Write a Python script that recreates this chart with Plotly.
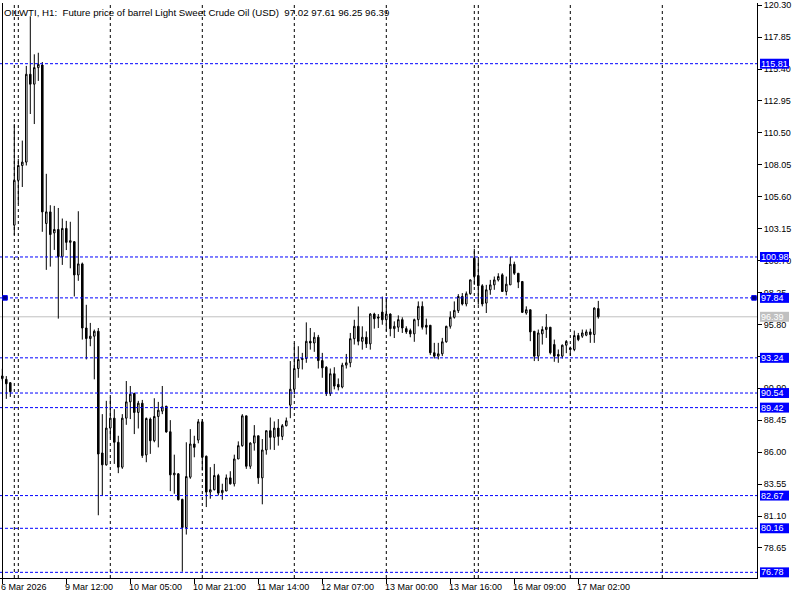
import plotly.graph_objects as go

# ---------------- data ----------------
title_text = "OILWTI, H1:  Future price of barrel Light Sweet Crude Oil (USD)  97.02 97.61 96.25 96.39"

bars = list(range(150))
opens = [91.85, 91.59, 91.33, 103.42, 106.86, 108.00, 108.26, 115.00, 114.24, 115.51,
         115.71, 103.55, 104.44, 102.83, 103.09, 101.00, 103.17, 102.10, 102.15, 99.60,
         100.45, 95.53, 94.72, 94.90, 95.28, 85.94, 85.03, 87.85, 88.61, 86.76,
         84.85, 88.61, 89.86, 90.50, 89.05, 89.76, 85.79, 88.54, 86.88, 88.74,
         89.15, 89.53, 87.57, 84.26, 84.34, 82.38, 80.22, 84.08, 86.63, 86.93,
         88.33, 85.69, 82.94, 83.12, 84.21, 82.89, 83.02, 84.03, 83.57, 85.48,
         86.50, 88.79, 84.92, 86.70, 87.26, 84.03, 86.17, 87.65, 87.14, 87.85,
         87.21, 88.03, 89.61, 90.83, 92.42, 93.11, 93.19, 94.51, 94.38, 94.82,
         93.03, 92.52, 90.49, 92.02, 91.20, 91.00, 92.68, 92.86, 94.71, 95.66,
         94.51, 94.82, 94.31, 96.60, 96.37, 96.75, 96.16, 96.60, 95.48, 95.59,
         96.17, 95.48, 95.33, 95.08, 96.17, 97.19, 95.74, 95.74, 93.63, 93.37,
         93.55, 94.47, 95.66, 96.35, 96.86, 97.95, 97.37, 98.16, 100.88, 99.55,
         98.77, 97.44, 98.46, 98.84, 99.22, 99.61, 98.33, 98.84, 100.42, 99.73,
         99.10, 96.68, 96.93, 95.28, 93.37, 95.08, 95.41, 95.59, 94.26, 93.50,
         93.37, 94.21, 94.00, 93.88, 94.95, 94.90, 94.98, 95.23, 95.03, 97.02]
highs = [92.40, 91.84, 91.38, 111.18, 108.51, 109.91, 115.64, 119.45, 116.53, 116.65,
         115.94, 107.36, 104.95, 104.90, 104.74, 103.93, 103.75, 103.68, 102.20, 104.49,
         100.55, 97.31, 95.92, 95.41, 95.53, 88.92, 89.94, 90.19, 89.30, 87.26,
         88.92, 91.46, 91.08, 90.57, 89.94, 90.01, 88.66, 88.66, 90.14, 89.86,
         91.08, 89.55, 88.46, 85.81, 84.39, 82.43, 86.76, 87.77, 87.26, 88.54,
         88.54, 85.74, 84.85, 85.10, 84.34, 83.58, 84.29, 84.54, 85.81, 86.83,
         88.92, 88.79, 86.76, 88.08, 87.26, 87.01, 87.65, 88.66, 88.36, 88.54,
         88.16, 88.66, 92.99, 94.38, 94.13, 93.62, 95.96, 95.53, 95.20, 95.00,
         93.62, 92.60, 92.42, 92.52, 91.66, 92.86, 93.54, 95.15, 96.16, 97.18,
         95.66, 95.27, 96.67, 96.70, 96.60, 97.94, 97.87, 96.65, 96.04, 96.50,
         96.35, 95.66, 95.48, 96.25, 97.57, 97.57, 96.25, 95.74, 94.39, 94.39,
         94.77, 95.70, 96.81, 97.57, 98.13, 98.21, 98.33, 99.25, 101.60, 100.75,
         98.89, 98.84, 99.22, 99.48, 99.73, 99.73, 99.48, 101.00, 100.62, 99.73,
         99.10, 97.19, 96.93, 95.28, 95.41, 95.66, 96.60, 95.59, 94.64, 93.88,
         94.26, 94.60, 94.10, 95.33, 95.15, 95.41, 95.41, 95.48, 97.11, 97.61]
lows = [91.50, 90.09, 90.24, 102.66, 105.08, 106.35, 108.00, 111.95, 111.18, 114.49,
        102.91, 99.99, 100.24, 101.52, 96.25, 100.37, 101.51, 100.11, 97.95, 99.15,
        94.64, 93.12, 94.13, 91.59, 81.16, 82.68, 84.97, 87.14, 85.10, 84.39,
        84.72, 88.10, 88.54, 87.39, 87.82, 85.56, 85.23, 85.87, 86.76, 86.37,
        88.92, 87.50, 83.01, 82.81, 82.30, 76.83, 79.68, 83.96, 85.61, 86.68,
        84.59, 81.79, 82.43, 83.07, 82.68, 82.35, 83.02, 83.52, 83.37, 85.48,
        86.42, 84.72, 84.72, 86.12, 83.57, 82.00, 85.81, 86.20, 86.17, 86.50,
        86.93, 87.98, 88.61, 90.44, 91.71, 92.35, 92.86, 93.87, 93.70, 92.42,
        91.71, 90.31, 90.31, 90.82, 90.74, 90.90, 92.42, 92.52, 94.26, 94.20,
        93.87, 94.00, 93.87, 95.48, 95.53, 95.78, 95.27, 94.89, 94.76, 95.23,
        95.15, 95.08, 94.82, 94.47, 95.66, 95.41, 95.03, 93.45, 93.19, 93.12,
        93.37, 94.40, 95.48, 96.25, 96.68, 97.26, 97.19, 98.08, 98.84, 97.32,
        97.19, 96.68, 98.08, 98.46, 99.10, 98.33, 98.03, 98.84, 99.60, 98.59,
        96.68, 96.55, 94.52, 92.99, 92.99, 94.26, 94.77, 93.50, 92.94, 92.86,
        93.19, 93.60, 93.40, 93.75, 94.52, 94.77, 94.90, 94.39, 94.39, 96.25]
closes = [91.65, 91.25, 90.64, 106.86, 108.00, 108.26, 115.00, 114.24, 115.51, 115.76,
          104.44, 104.44, 102.70, 103.09, 101.00, 103.17, 102.10, 102.23, 99.60, 100.45,
          95.53, 94.72, 94.90, 95.28, 85.86, 85.03, 87.85, 88.61, 86.76, 84.85,
          88.61, 89.86, 90.45, 89.05, 89.76, 85.74, 88.59, 86.88, 88.74, 89.22,
          89.48, 87.55, 84.26, 84.39, 82.35, 80.22, 84.13, 86.63, 86.37, 88.33,
          85.61, 82.94, 83.12, 84.21, 82.86, 83.07, 84.03, 83.57, 85.48, 86.50,
          88.79, 84.92, 86.70, 87.26, 84.03, 86.17, 87.65, 87.14, 87.85, 87.21,
          88.03, 88.41, 90.83, 92.42, 93.11, 93.19, 94.51, 94.38, 94.82, 93.03,
          92.47, 90.49, 92.02, 91.07, 91.00, 92.68, 92.86, 94.71, 95.66, 94.51,
          94.82, 94.31, 96.60, 96.24, 96.30, 96.16, 96.60, 95.48, 95.66, 96.17,
          95.53, 95.23, 95.08, 96.17, 97.19, 95.59, 95.59, 93.63, 93.37, 93.55,
          94.47, 95.66, 96.35, 96.88, 97.95, 97.37, 98.16, 99.22, 99.48, 98.77,
          97.37, 98.46, 98.84, 99.22, 99.48, 98.33, 98.89, 100.42, 99.73, 99.05,
          96.73, 96.93, 95.23, 93.37, 95.15, 95.41, 95.59, 93.63, 93.37, 93.37,
          94.21, 94.50, 93.88, 94.95, 94.64, 95.15, 95.23, 95.03, 97.06, 96.39]

ytick_vals = [120.30, 117.85, 115.40, 112.95, 110.50, 108.05, 105.60, 103.15, 100.70,
              98.25, 95.80, 93.35, 90.90, 88.45, 86.00, 83.55, 81.10, 78.65]
hidden_ytick = [93.35]  # fully covered by a level label in the reference
xtick_bars = [0, 16, 32, 48, 64, 80, 96, 112, 128, 144]
xtick_labels = ["6 Mar 2026", "9 Mar 12:00", "10 Mar 05:00", "10 Mar 21:00", "11 Mar 14:00",
                "12 Mar 07:00", "13 Mar 00:00", "13 Mar 16:00", "16 Mar 09:00", "17 Mar 02:00"]
hline_levels = [115.81, 100.98, 97.84, 93.24, 90.54, 89.42, 82.67, 80.16, 76.78]
selected_level = 97.84
last_price = 96.39
separator_bars = [3, 4, 27, 50, 73, 96, 118, 119, 142, 165]

# ---------------- layout constants ----------------
W, H = 800, 600
PLOT_W, PLOT_H = 757, 578
PX_PER_BAR = 4.0
FIRST_BAR_PX = 2.3
Y_TOP, Y_BOT = 120.468, 76.346
px_per_price = PLOT_H / (Y_TOP - Y_BOT)
FONT = "Liberation Sans"
FS = 9

x_range = [-FIRST_BAR_PX / PX_PER_BAR, (PLOT_W - FIRST_BAR_PX) / PX_PER_BAR]

fig = go.Figure()
fig.add_trace(go.Candlestick(
    x=bars, open=opens, high=highs, low=lows, close=closes,
    increasing=dict(line=dict(color="black", width=1), fillcolor="white"),
    decreasing=dict(line=dict(color="black", width=1), fillcolor="black"),
    whiskerwidth=0, hoverinfo="skip", showlegend=False,
))

shapes = []
for b in separator_bars:
    shapes.append(dict(type="line", xref="x", yref="paper", x0=b, x1=b, y0=0, y1=1,
                       line=dict(color="black", width=1, dash="3px,3px"), layer="below"))
shapes.append(dict(type="line", xref="paper", yref="y", x0=0, x1=1, y0=last_price, y1=last_price,
                   line=dict(color="#c0c0c0", width=1), layer="below"))
for lv in hline_levels:
    shapes.append(dict(type="line", xref="paper", yref="y", x0=0, x1=1, y0=lv, y1=lv,
                       line=dict(color="#0000ff", width=1, dash="3px,2px"), layer="above"))
shapes.append(dict(type="line", xref="paper", yref="paper", x0=2.5 / PLOT_W, x1=2.5 / PLOT_W,
                   y0=0, y1=1, line=dict(color="black", width=1), layer="above"))

annotations = []
half_box = 5.0 / px_per_price
box_x0, box_x1 = 760 / PLOT_W, 789 / PLOT_W
for lv in hline_levels + [last_price]:
    col = "#c0c0c0" if lv == last_price else "#0000ff"
    shapes.append(dict(type="rect", xref="paper", yref="y", x0=box_x0, x1=box_x1,
                       y0=lv - half_box, y1=lv + half_box, fillcolor=col,
                       line=dict(width=0), layer="above"))
    annotations.append(dict(xref="paper", yref="y", x=760.5 / PLOT_W, y=lv, text=f"{lv:.2f}",
                            xanchor="left", yanchor="middle", showarrow=False,
                            font=dict(family=FONT, size=FS, color="white"),
                            borderpad=0, borderwidth=0))

sq = 2.3 / px_per_price
for px0, px1 in [(2.7, 7.3), (751.7, 756.3)]:
    shapes.append(dict(type="rect", xref="paper", yref="y", x0=px0 / PLOT_W, x1=px1 / PLOT_W,
                       y0=selected_level - sq, y1=selected_level + sq,
                       fillcolor="#000080", line=dict(color="#0000ff", width=1), layer="above"))

for b, lab in zip(xtick_bars, xtick_labels):
    annotations.append(dict(xref="x", yref="paper", x=b, y=-9.0 / PLOT_H, text=lab,
                            xanchor="left", yanchor="middle", showarrow=False, xshift=-1,
                            font=dict(family=FONT, size=FS, color="black"),
                            borderpad=0, borderwidth=0))

annotations.append(dict(xref="paper", yref="paper", x=4.0 / PLOT_W, y=1 - 9.5 / PLOT_H,
                        text=title_text.replace(" ", "\u00a0"), xanchor="left", yanchor="middle",
                        showarrow=False, font=dict(family=FONT, size=9.7, color="black"),
                        borderpad=0, borderwidth=0))

fig.update_layout(
    width=W, height=H,
    margin=dict(l=0, r=W - PLOT_W, t=0, b=H - PLOT_H, pad=0),
    paper_bgcolor="white", plot_bgcolor="white",
    boxgap=0.45,
    showlegend=False,
    shapes=shapes, annotations=annotations,
    xaxis=dict(range=x_range, rangeslider=dict(visible=False), showgrid=False, zeroline=False,
               showline=True, linecolor="black", linewidth=1, ticks="outside", ticklen=5,
               tickcolor="black", tickwidth=1, tickvals=xtick_bars, showticklabels=False,
               fixedrange=True),
    yaxis=dict(range=[Y_BOT, Y_TOP], side="right", showgrid=False, zeroline=False,
               showline=True, linecolor="black", linewidth=1, ticks="outside", ticklen=4,
               tickcolor="black", tickwidth=1, tickvals=ytick_vals,
               ticktext=["" if v in hidden_ytick else f"{v:.2f}" for v in ytick_vals],
               ticklabeloverflow="allow",
               tickfont=dict(family=FONT, size=FS, color="black"), fixedrange=True),
    font=dict(family=FONT, size=FS, color="black"),
)

fig.write_html("out.html", config={"displayModeBar": False},
               post_script="document.body.style.margin='0';document.body.style.padding='0';")
